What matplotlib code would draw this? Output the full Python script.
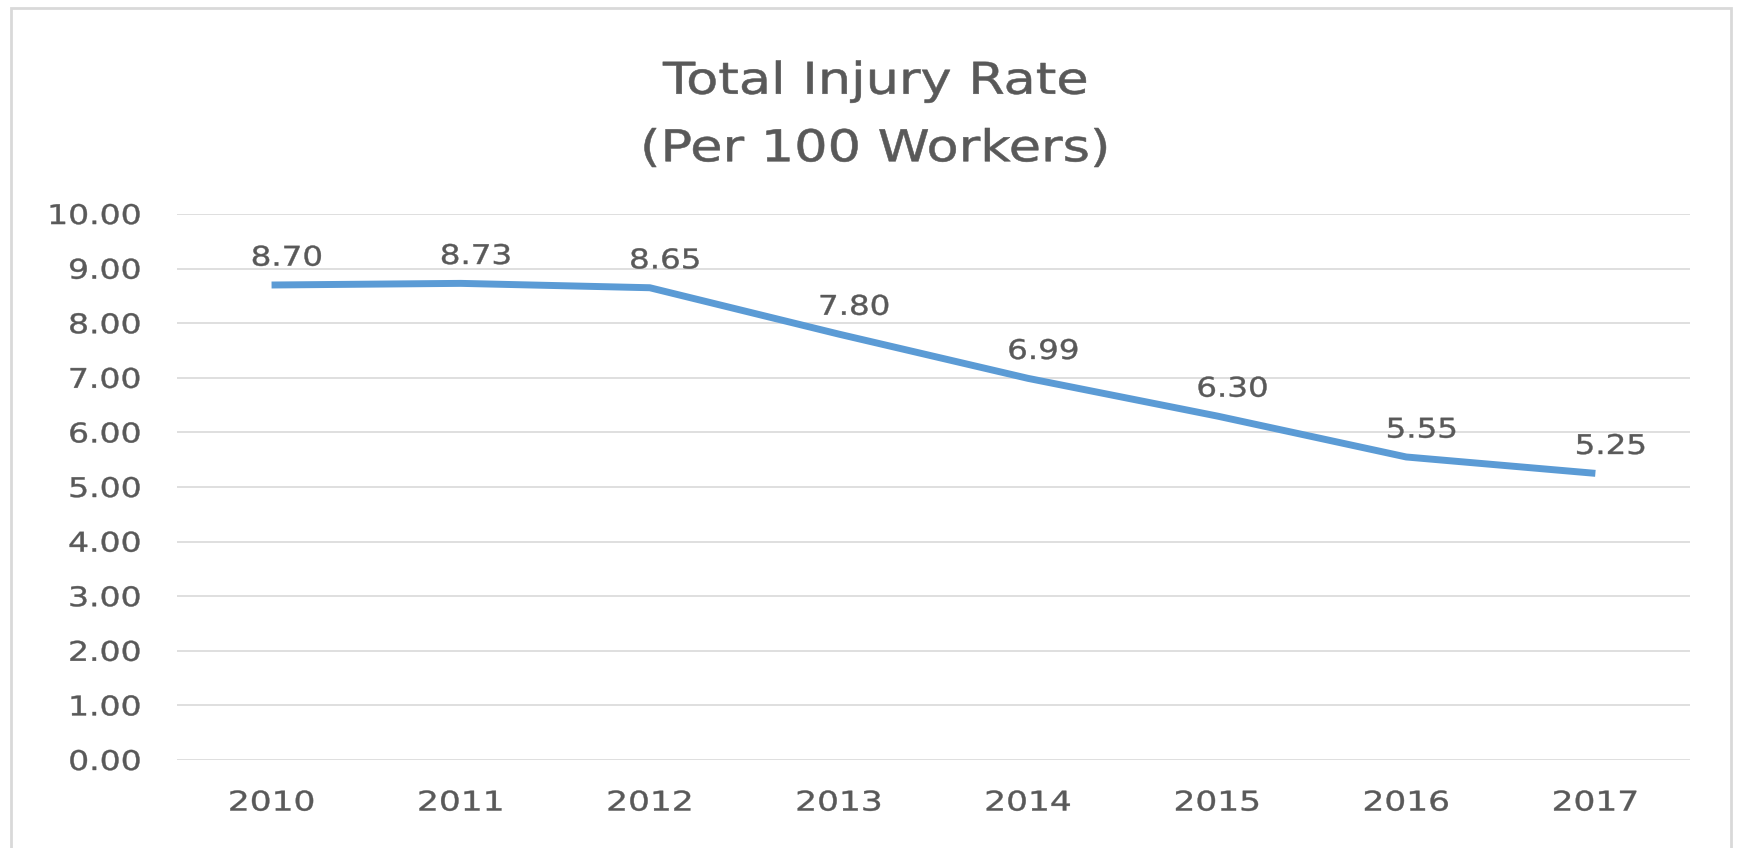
import matplotlib
matplotlib.use("Agg")
import numpy as np
import matplotlib.pyplot as plt
from matplotlib.patches import Rectangle
from matplotlib.patheffects import AbstractPathEffect
from matplotlib.transforms import Affine2D
from matplotlib.path import Path

years = ["2010", "2011", "2012", "2013", "2014", "2015", "2016", "2017"]
rates = [8.70, 8.73, 8.65, 7.80, 6.99, 6.30, 5.55, 5.25]
y_ticks = [0, 1, 2, 3, 4, 5, 6, 7, 8, 9, 10]
title = "Total Injury Rate\n(Per 100 Workers)"

TEXT = "#595959"
GRID = "#D9D9D9"
LINE = "#5B9BD5"
FONT = "DejaVu Sans"


class HStretch(AbstractPathEffect):
    """Widen glyphs horizontally (the reference text is horizontally stretched)
    and give them a slightly heavier stroke."""

    def __init__(self, sx, anchor="center", weight=0.3):
        super().__init__()
        self.sx = sx
        self.anchor = anchor
        self.weight = weight

    def draw_path(self, renderer, gc, tpath, affine, rgbFace=None):
        v = tpath.vertices
        if tpath.codes is not None:
            v = v[tpath.codes != Path.CLOSEPOLY]
        a = 0.0
        if len(v):
            pts = affine.transform(v)
            x0, x1 = pts[:, 0].min(), pts[:, 0].max()
            a = {"left": x0, "right": x1}.get(self.anchor, (x0 + x1) / 2)
        t = affine + Affine2D().translate(-a, 0).scale(self.sx, 1).translate(a, 0)
        gc0 = renderer.new_gc()
        gc0.copy_properties(gc)
        if rgbFace is not None and self.weight > 0:
            gc0.set_linewidth(self.weight)
            gc0.set_foreground(rgbFace)
            gc0.set_joinstyle("round")
        renderer.draw_path(gc0, tpath, t, rgbFace)
        gc0.restore()


fig = plt.figure(figsize=(17.37, 8.48), dpi=100)
fig.patch.set_facecolor("white")
ax = fig.add_axes([0.1019, 0.1038, 0.9729 - 0.1019, 0.7476 - 0.1038])

x = list(range(len(years)))
ax.plot(x, rates, color=LINE, lw=5.0, solid_capstyle="butt",
        solid_joinstyle="round", zorder=3)

LS = 19.5
for xi, v in zip(x, rates):
    ax.annotate(f"{v:.2f}", (xi, v), xytext=(11, 19), textcoords="offset points",
                ha="center", va="center", fontsize=LS, color=TEXT, family=FONT,
                path_effects=[HStretch(1.2, "center")])

ax.set_xlim(-0.5, len(years) - 0.5)
ax.set_ylim(0, 10)
ax.set_yticks(y_ticks)
ax.set_yticklabels([f"{t:.2f}" for t in y_ticks])
ax.set_xticks(x)
ax.set_xticklabels(years)
ax.tick_params(axis="both", length=0, labelsize=LS, labelcolor=TEXT)
ax.tick_params(axis="y", pad=26)
ax.tick_params(axis="x", pad=22)
for lab in ax.get_yticklabels():
    lab.set_family(FONT)
    lab.set_path_effects([HStretch(1.22, "right")])
for lab in ax.get_xticklabels():
    lab.set_family(FONT)
    lab.set_path_effects([HStretch(1.27, "center")])
ax.grid(axis="y", color=GRID, lw=1.2)
ax.set_axisbelow(True)
for s in ax.spines.values():
    s.set_visible(False)

fig.text(0.504, 0.8644, title, ha="center", va="center", fontsize=31.5,
         color=TEXT, family=FONT, linespacing=1.72,
         path_effects=[HStretch(1.2, "center", 0.4)])

border = Rectangle((11 / 1737, -0.05), (1731 - 11) / 1737, 1.05 - 8 / 848,
                   transform=fig.transFigure, fill=False, edgecolor=GRID, lw=2,
                   clip_on=False)
fig.patches.append(border)

fig.savefig("out.png", dpi=100)
